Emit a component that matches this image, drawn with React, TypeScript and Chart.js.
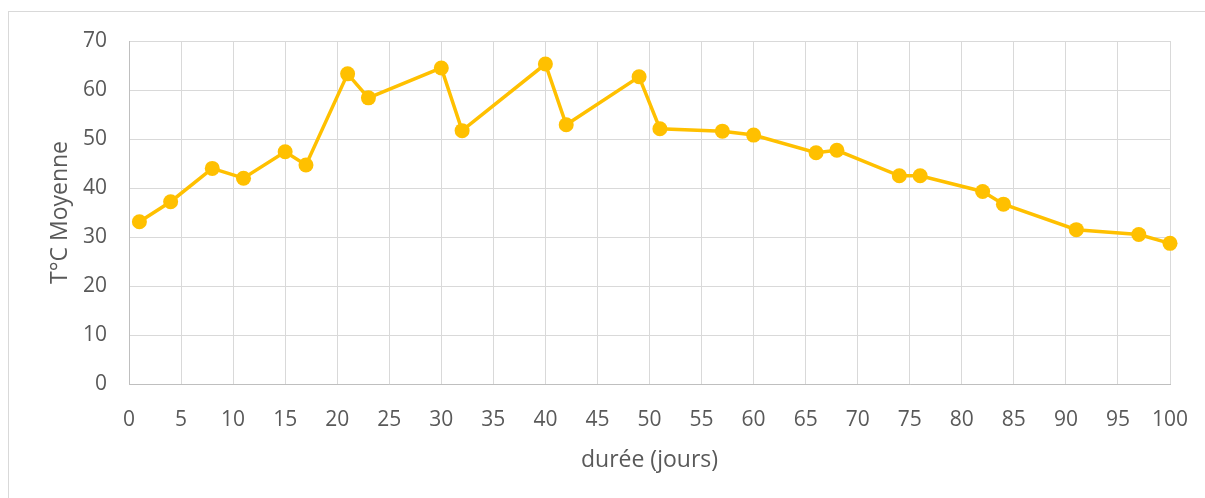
import React, { useEffect, useRef } from "react";
import { Chart, registerables } from "chart.js";

Chart.register(...registerables);

const durations = [1, 4, 8, 11, 15, 17, 21, 23, 30, 32, 40, 42, 49, 51, 57, 60, 66, 68, 74, 76, 82, 84, 91, 97, 100];
const temperatures = [33.1, 37.2, 44.0, 42.0, 47.4, 44.7, 63.3, 58.4, 64.5, 51.7, 65.3, 52.9, 62.7, 52.1, 51.6, 50.8, 47.2, 47.7, 42.5, 42.5, 39.3, 36.7, 31.5, 30.5, 28.7];
const xTitle = "durée (jours)";
const yTitle = "T°C Moyenne";

const FONT = "'Open Sans', sans-serif";
const TEXT = "#595959";
const GRID = "#d9d9d9";

export default function App() {
  const ref = useRef<HTMLCanvasElement>(null);
  useEffect(() => {
    if (!ref.current) return;
    const points = durations.map((d, i) => ({ x: d, y: temperatures[i] }));
    const chart = new Chart(ref.current, {
      type: "line",
      data: {
        datasets: [
          {
            data: points,
            borderColor: "#FFC000",
            backgroundColor: "#FFC000",
            borderWidth: 3.5,
            pointRadius: 7.5,
            pointBorderWidth: 0,
            pointBackgroundColor: "#FFC000",
            tension: 0,
            clip: false,
          } as any,
        ],
      },
      options: {
        animation: false,
        responsive: false,
        maintainAspectRatio: false,
        layout: { padding: { left: 38, right: 35, top: 29, bottom: 13 } },
        plugins: { legend: { display: false }, tooltip: { enabled: false } },
        scales: {
          x: {
            type: "linear",
            min: 0,
            max: 100,
            afterFit: (s: any) => { s.height = 101; s.paddingLeft = 0; s.paddingRight = 0; },
            ticks: { stepSize: 5, color: TEXT, font: { family: FONT, size: 21 }, padding: 23, maxRotation: 0, autoSkip: false },
            grid: { color: GRID, lineWidth: 1, drawTicks: false },
            border: { color: "#bfbfbf", width: 1 },
            title: { display: true, text: xTitle, color: TEXT, font: { family: FONT, size: 23 }, padding: { top: 0, bottom: 11 } },
          },
          y: {
            min: 0,
            max: 70,
            afterFit: (s: any) => { s.width = 82; s.paddingTop = 0; s.paddingBottom = 0; },
            ticks: { stepSize: 10, color: TEXT, font: { family: FONT, size: 21 }, padding: 22 },
            grid: { color: GRID, lineWidth: 1, drawTicks: false },
            border: { color: "#bfbfbf", width: 1 },
            title: { display: true, text: yTitle, color: TEXT, font: { family: FONT, size: 23 }, padding: { top: 0, bottom: 0 } },
          },
        },
      },
    });
    return () => chart.destroy();
  }, []);
  return (
    <div
      style={{
        position: "fixed",
        left: 8,
        top: 11,
        width: 1200,
        height: 490,
        borderTop: "1px solid #d9d9d9",
        borderLeft: "1px solid #d9d9d9",
        background: "#fff",
      }}
    >
      <canvas ref={ref} width={1196} height={486} style={{ display: "block" }} />
    </div>
  );
}
